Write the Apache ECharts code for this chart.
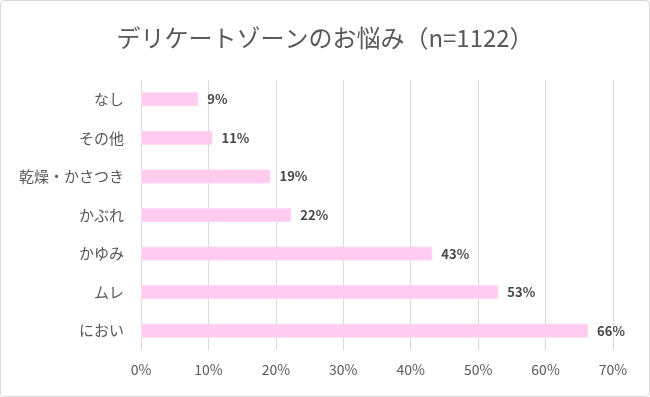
<!DOCTYPE html>
<html>
<head>
<meta charset="utf-8">
<script src="https://cdn.jsdelivr.net/npm/echarts@6/dist/echarts.min.js"></script>
<style>
  html, body { margin: 0; padding: 0; background: #fff; }
  #chart { width: 648px; height: 395px; border: 1px solid #d9d9d9; border-radius: 4px; }
</style>
</head>
<body>
<div id="chart"></div>
<script>
// カテゴリ（下から上）
const categories = ['におい', 'ムレ', 'かゆみ', 'かぶれ', '乾燥・かさつき', 'その他', 'なし'];
// 割合（%）
const values = [66.3, 53.0, 43.2, 22.3, 19.2, 10.6, 8.5];
const xTicks = [0, 10, 20, 30, 40, 50, 60, 70];

const font = '"Noto Sans CJK JP", "Noto Sans", sans-serif';

const chart = echarts.init(document.getElementById('chart'));

const option = {
  animation: false,
  title: {
    text: 'デリケートゾーンのお悩み（n=1122）',
    left: 'center',
    top: 20,
    textStyle: { fontFamily: font, fontSize: 24, fontWeight: 'normal', color: '#595959' }
  },
  grid: { left: 140, right: 36, top: 79, bottom: 46 },
  xAxis: {
    type: 'value',
    min: xTicks[0],
    max: xTicks[xTicks.length - 1],
    interval: 10,
    axisLine: { show: false },
    axisTick: { show: false },
    splitLine: { lineStyle: { color: '#d9d9d9', width: 1 } },
    axisLabel: {
      margin: 13,
      fontFamily: font,
      fontSize: 14,
      color: '#595959',
      formatter: v => v + '%'
    }
  },
  yAxis: {
    type: 'category',
    data: categories,
    axisLine: { show: false },
    axisTick: { show: false },
    axisLabel: { margin: 17, fontFamily: font, fontSize: 15, color: '#595959' }
  },
  series: [{
    type: 'bar',
    data: values,
    barWidth: 14,
    itemStyle: { color: '#ffccf0', borderColor: '#ffd9f3', borderWidth: 1 },
    label: {
      show: true,
      position: 'right',
      distance: 9,
      fontFamily: font,
      fontSize: 13,
      fontWeight: 'bold',
      color: '#474747',
      formatter: p => Math.round(p.value) + '%'
    }
  }]
};

chart.setOption(option);
</script>
</body>
</html>
